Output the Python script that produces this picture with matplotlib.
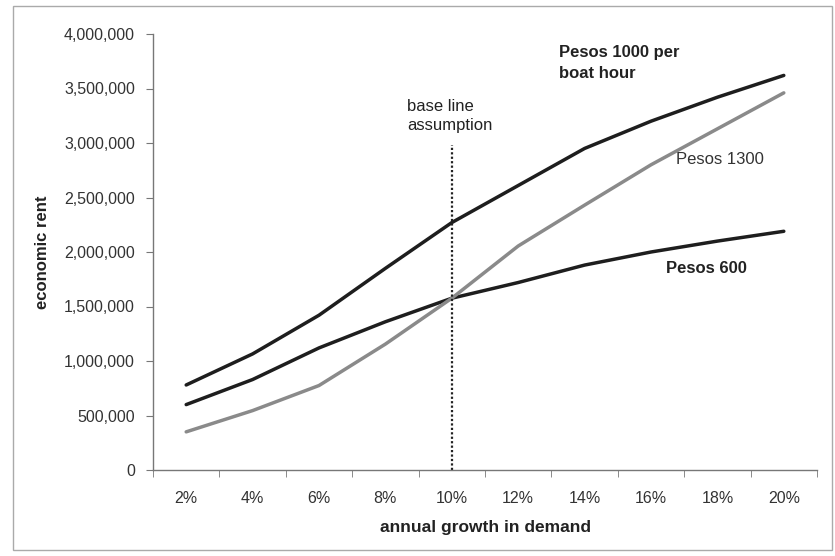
import matplotlib
matplotlib.use("Agg")
import matplotlib.pyplot as plt
from matplotlib.patches import Rectangle
from matplotlib.ticker import FuncFormatter, FixedLocator
import numpy as np

categories = ["2%", "4%", "6%", "8%", "10%", "12%", "14%", "16%", "18%", "20%"]
pesos_1000 = [780000, 1065000, 1420000, 1850000, 2270000, 2610000, 2950000, 3200000, 3420000, 3620000]
pesos_600 = [600000, 830000, 1120000, 1360000, 1576000, 1720000, 1880000, 2000000, 2100000, 2190000]
pesos_1300 = [350000, 545000, 775000, 1155000, 1576000, 2055000, 2430000, 2800000, 3130000, 3460000]
yticks = [0, 500000, 1000000, 1500000, 2000000, 2500000, 3000000, 3500000, 4000000]
baseline_index = 4
baseline_top = 2980000

plt.rcParams["font.family"] = ["Liberation Sans", "DejaVu Sans"]

fig = plt.figure(figsize=(8.35, 5.56), dpi=100)
ax = fig.add_axes([153/835, (556-470)/556, (817-153)/835, (470-34)/556])

x = np.arange(len(categories))
ax.plot(x, pesos_1000, color="#1e1e1e", lw=2.5, solid_capstyle="round")
ax.plot(x, pesos_600, color="#1e1e1e", lw=2.5, solid_capstyle="round")
ax.plot(x, pesos_1300, color="#8a8a8a", lw=2.5, solid_capstyle="round")
ax.plot([x[baseline_index], x[baseline_index]], [0, baseline_top], color="#222222", lw=1.6, ls=(0, (1, 1)))

ax.set_xlim(-0.5, len(categories) - 0.5)
ax.set_ylim(0, 4000000)
ax.set_yticks(yticks)
ax.yaxis.set_major_formatter(FuncFormatter(lambda v, p: f"{int(v):,}"))
ax.set_xticks(x)
ax.set_xticklabels(categories)
ax.xaxis.set_minor_locator(FixedLocator(np.arange(-0.5, len(categories), 1.0)))
ax.tick_params(axis="x", which="major", length=0, pad=15, labelsize=11.5, colors="#333333")
ax.tick_params(axis="x", which="minor", length=5, direction="out", color="#777777")
ax.tick_params(axis="y", which="major", length=5, direction="out", color="#777777", labelsize=11.5,
               labelcolor="#333333", pad=8)

for s in ["top", "right"]:
    ax.spines[s].set_visible(False)
for s in ["left", "bottom"]:
    ax.spines[s].set_color("#777777")
    ax.spines[s].set_linewidth(1.0)

ax.set_ylabel("economic rent", fontsize=12, fontweight="bold", color="#222222", labelpad=10)
ax.set_xlabel("annual growth in demand", fontsize=12.5, fontweight="bold", color="#222222", labelpad=10)

ax.annotate("base line\nassumption", xy=(3.33, 3250000), fontsize=12, color="#222222",
            ha="left", va="center", linespacing=1.35)
ax.annotate("Pesos 1000 per\nboat hour", xy=(5.61, 3730000), fontsize=12, fontweight="bold",
            color="#222222", ha="left", va="center", linespacing=1.5)
ax.annotate("Pesos 1300", xy=(7.38, 2850000), fontsize=12, color="#333333", ha="left", va="center")
ax.annotate("Pesos 600", xy=(7.23, 1850000), fontsize=12, fontweight="bold", color="#222222",
            ha="left", va="center")

fig.patches.append(Rectangle((13/835, 6/556), (832-13)/835, (550-6)/556, transform=fig.transFigure,
                             fill=False, edgecolor="#aaaaaa", lw=1.0))

fig.savefig("out.png", dpi=100)
